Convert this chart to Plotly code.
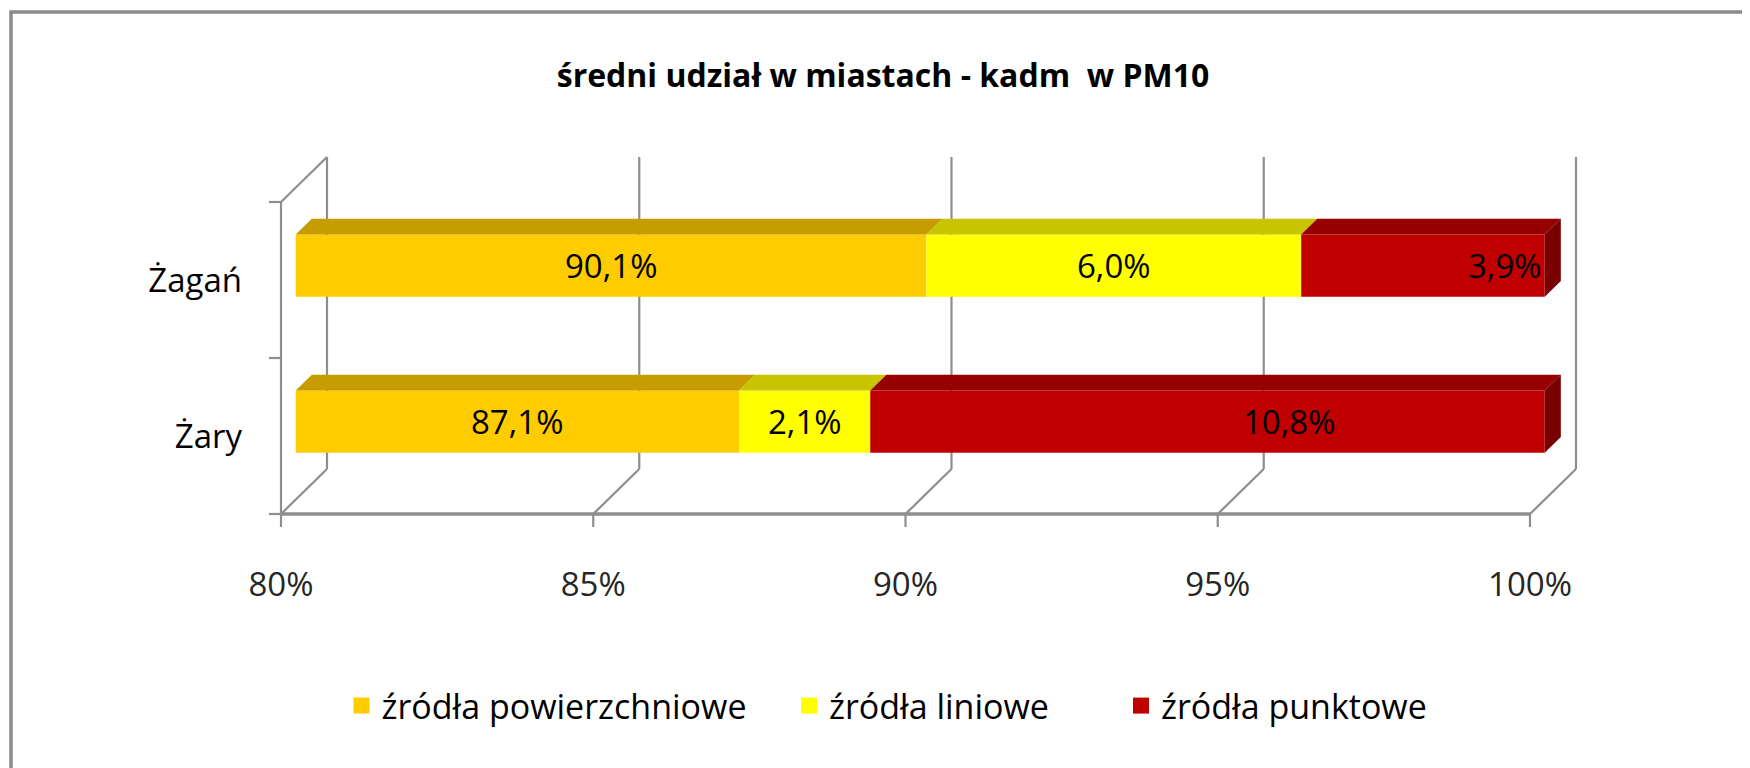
import plotly.graph_objects as go

# ---------------- data ----------------
categories = ["Żary", "Żagań"]
series_names = ["źródła powierzchniowe", "źródła liniowe", "źródła punktowe"]
powierzchniowe = [87.1, 90.1]
liniowe = [2.1, 6.0]
punktowe = [10.8, 3.9]
x_ticks = [80, 85, 90, 95, 100]
x_tick_labels = ["80%", "85%", "90%", "95%", "100%"]
title_text = "średni udział w miastach - kadm\u00a0 w PM10"

series_values = [powierzchniowe, liniowe, punktowe]
front_colors = ["#FFCC00", "#FFFF00", "#C00000"]
top_colors = ["#C69C00", "#C8C400", "#960000"]
side_colors = ["#9A7A00", "#9A9A00", "#780000"]

X_MIN, X_MAX = 80, 100

# ---------------- geometry (page pixels, body margin OFF) ----------------
W, H = 1750, 768
OFF = 8
PX_X80 = 281.0 - OFF
PX_PER_X = 62.45
PX_Y0 = 514.0 - OFF
PX_PER_Y = 156.0
DEPTH_PX = (46.0, 45.0)
L, R, T, B = 254, 1584, 140, 524

xr = [X_MIN - (PX_X80 - L) / PX_PER_X, X_MIN + (R - PX_X80) / PX_PER_X]
yr = [-(B - PX_Y0) / PX_PER_Y, (PX_Y0 - T) / PX_PER_Y]
DX = DEPTH_PX[0] / PX_PER_X
DY = DEPTH_PX[1] / PX_PER_Y
F0, F1 = 0.32, 0.35      # bar front depth fraction, bar thickness fraction
BAR_W = 0.4
NCAT = len(categories)
GRID = "#8e8e8e"
FONT = "Open Sans"

fig = go.Figure()
shapes = []
annotations = []


def line(x0, y0, x1, y1, width=2.2, color=GRID, layer="below"):
    shapes.append(dict(type="line", xref="x", yref="y", x0=x0, y0=y0, x1=x1, y1=y1,
                       line=dict(color=color, width=width), layer=layer))


def poly(pts, color):
    d = "M " + " L ".join(f"{px},{py}" for px, py in pts) + " Z"
    shapes.append(dict(type="path", xref="x", yref="y", path=d, fillcolor=color,
                       line=dict(width=0), layer="above"))


# back wall gridlines and floor diagonals
for v in x_ticks:
    line(v + DX, DY, v + DX, NCAT + DY)
    line(v + DX, DY, v, 0)
    line(v, 0, v, -13 / PX_PER_Y)  # tick marks below floor
# floor front edge
line(X_MIN, 0, X_MAX, 0, width=3.5)
# left wall
line(X_MIN, 0, X_MIN, NCAT)
line(X_MIN, NCAT, X_MIN + DX, NCAT + DY)
for k in range(NCAT + 1):
    line(X_MIN - 12 / PX_PER_X, k, X_MIN, k)

# bars
cum = [0.0] * NCAT
for i, (name, vals) in enumerate(zip(series_names, series_values)):
    bases, lens, ys = [], [], []
    for j, v in enumerate(vals):
        start, end = cum[j], cum[j] + v
        s, e = max(start, X_MIN), min(end, X_MAX)
        cum[j] = end
        yc = j + 0.5 + F0 * DY
        bases.append(s + F0 * DX)
        lens.append(e - s)
        ys.append(yc)
        yt = yc + BAR_W / 2
        yb = yc - BAR_W / 2
        # top face
        poly([(s + F0 * DX, yt), (e + F0 * DX, yt),
              (e + (F0 + F1) * DX, yt + F1 * DY), (s + (F0 + F1) * DX, yt + F1 * DY)],
             top_colors[i])
        # end face
        if e >= X_MAX - 1e-9:
            poly([(e + F0 * DX, yt), (e + F0 * DX, yb),
                  (e + (F0 + F1) * DX, yb + F1 * DY), (e + (F0 + F1) * DX, yt + F1 * DY)],
                 side_colors[i])
        label = f"{v:.1f}".replace(".", ",") + "%"
        shift = 82 if i == len(series_names) - 1 else 0
        annotations.append(dict(x=(s + e) / 2 + F0 * DX, y=yc, xref="x", yref="y",
                                text=label, showarrow=False, xshift=shift,
                                font=dict(family=FONT, size=33, color="#000000")))
    fig.add_trace(go.Bar(orientation="h", y=ys, x=lens, base=bases, width=BAR_W,
                         marker=dict(color=front_colors[i], line=dict(width=0)),
                         name=name, showlegend=False, hoverinfo="skip"))

# legend entries (one legend per entry so each can sit where the original does)
legend_ids = ["legend", "legend2", "legend3"]
legend_x = [333.5, 781, 1113]
for i, name in enumerate(series_names):
    fig.add_trace(go.Scatter(x=[None], y=[None], mode="markers", name=name,
                             legend=legend_ids[i],
                             marker=dict(symbol="square", size=16, color=front_colors[i])))


def px2paper_x(px):
    return (px - L) / (R - L)


def px2paper_y(py):
    return (B - py) / (B - T)


# outer chart border
shapes.append(dict(type="rect", xref="paper", yref="paper",
                   x0=px2paper_x(3), y0=px2paper_y(800), x1=px2paper_x(1790), y1=px2paper_y(4),
                   line=dict(color="#8a8a8a", width=3.5), fillcolor="rgba(0,0,0,0)", layer="below"))

legend_common = dict(orientation="h", xref="container", yref="container",
                     xanchor="left", y=1 - 698 / H, yanchor="middle",
                     font=dict(family=FONT, size=34, color="#000000"),
                     itemsizing="trace", bgcolor="rgba(0,0,0,0)")
legends = {}
for lid, lx in zip(legend_ids, legend_x):
    legends[lid] = dict(legend_common, x=lx / W)

fig.update_layout(
    width=W, height=H,
    margin=dict(l=L, r=W - R, t=T, b=H - B, pad=0),
    paper_bgcolor="white", plot_bgcolor="white",
    barmode="overlay",
    title=dict(text=title_text, x=0.5, xref="container", xanchor="center",
               y=1 - 68 / H, yref="container", yanchor="middle",
               font=dict(family=FONT, size=32, color="#000000", weight="bold")),
    xaxis=dict(range=xr, showgrid=False, zeroline=False, showline=False,
               tickvals=x_ticks, ticktext=x_tick_labels, ticks="",
               ticklabelstandoff=30,
               tickfont=dict(family=FONT, size=33, color="#262626"), fixedrange=True),
    yaxis=dict(range=yr, showgrid=False, zeroline=False, showline=False,
               tickvals=[k + 0.5 for k in range(NCAT)], ticktext=categories, ticks="",
               ticklabelstandoff=19,
               tickfont=dict(family=FONT, size=33, color="#000000"), fixedrange=True),
    shapes=shapes,
    annotations=annotations,
    showlegend=True,
    **legends,
)

fig.write_html("out.html")
